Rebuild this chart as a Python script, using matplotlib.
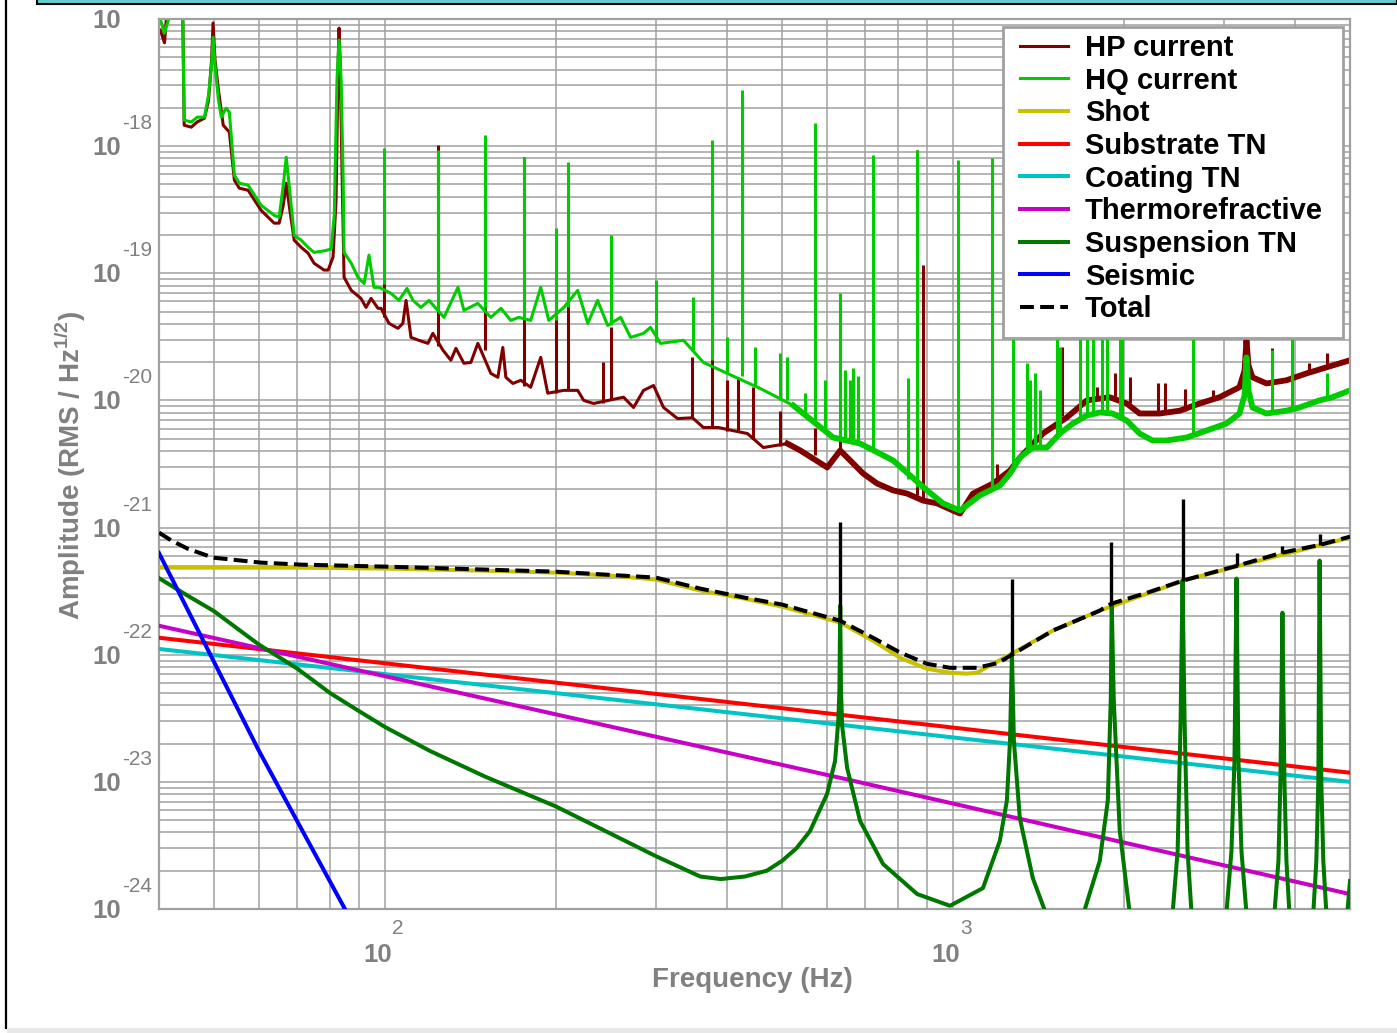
import numpy as np
import matplotlib
matplotlib.use("Agg")
import matplotlib.pyplot as plt
from matplotlib.patches import Rectangle
from matplotlib.lines import Line2D
from matplotlib.ticker import LogLocator, NullFormatter

plt.rcParams['font.family'] = ['Liberation Sans', 'DejaVu Sans']
plt.rcParams['mathtext.fontset'] = 'custom'
plt.rcParams['mathtext.rm'] = 'Liberation Sans'
plt.rcParams['mathtext.bf'] = 'Liberation Sans:bold'
plt.rcParams['lines.scale_dashes'] = False

# ---------------- data ----------------
hp_f = [40.2, 40.9, 41.4, 42.1, 44.0, 44.3, 45.6, 46.7, 48.1, 48.9, 49.5, 49.8, 50.2, 50.9, 51.9,
        53.2, 54.3, 55.4, 57.4, 60.5, 63.8, 65.1, 66.2, 67.0, 67.8, 69.2, 71.2, 73.2, 75.0, 78.1,
        79.4, 81.0, 82.0, 82.7, 83.0, 83.35, 84.0, 84.7, 87.2, 90.7, 92.6, 94.5, 97.2, 98.4, 101.6,
        105.4, 107.5, 108.9, 111.1, 114.7, 119.0, 121.4, 126.5, 130.6, 133.3, 137.7, 141.6, 145.7,
        147.5, 153.6, 158.0, 161.2, 163.2, 167.9, 173.4, 180.5, 188.0, 193.4, 206.4, 218.4, 223.8,
        232.9, 263.0, 273.9, 285.2, 297.0, 309.3, 327.3, 347.8, 363.6, 386.4, 408.9, 434.5, 463.6,
        510.9, 538.5, 600.6, 633, 659.2, 694.8, 735.3, 784.6, 830.4, 885.8, 937.4, 1000, 1029,
        1084, 1176, 1260, 1312, 1440, 1586, 1720, 1887, 2022, 2131, 2311, 2506, 2718, 2946, 3194,
        3261, 3286, 3313, 3367, 3564, 3864, 4190, 4543, 5000]
hp_v = [8.2e-18, 6.5e-18, 1.3e-17, 1.5e-17, 1.5e-17, 1.46e-18, 1.41e-18, 1.55e-18, 1.66e-18, 2.3e-18,
        4.75e-18, 9.3e-18, 4.75e-18, 2.76e-18, 1.46e-18, 1.29e-18, 5.39e-19, 4.67e-19, 4.5e-19,
        3.13e-19, 2.48e-19, 2.48e-19, 3.43e-19, 5.11e-19, 3.43e-19, 1.82e-19, 1.6e-19, 1.44e-19,
        1.2e-19, 1.06e-19, 1.06e-19, 1.34e-19, 3.76e-19, 4.75e-18, 8.48e-18, 4.75e-18, 6.46e-19,
        9.3e-20, 7.34e-20, 6.35e-20, 5.39e-20, 6.35e-20, 5.3e-20, 5.3e-20, 4.04e-20, 3.69e-20,
        4.04e-20, 6.12e-20, 3.13e-20, 2.97e-20, 2.81e-20, 3.37e-20, 2.48e-20, 2.07e-20, 2.57e-20,
        1.96e-20, 1.99e-20, 2.81e-20, 2.48e-20, 1.63e-20, 1.52e-20, 2.61e-20, 1.52e-20, 1.36e-20,
        1.44e-20, 1.27e-20, 2.18e-20, 1.14e-20, 1.2e-20, 1.2e-20, 1.0e-20, 9.46e-21, 1.06e-20,
        8.8e-21, 1.2e-20, 1.31e-20, 8.8e-21, 7.2e-21, 7.3e-21, 6.12e-21, 6.12e-21, 5.8e-21, 5.49e-21,
        4.26e-21, 4.58e-21, 4.04e-21, 2.97e-21, 4.04e-21, 3.37e-21, 2.66e-21, 2.22e-21, 1.96e-21,
        1.85e-21, 1.63e-21, 1.55e-21, 1.36e-21, 1.29e-21, 1.85e-21, 2.22e-21, 2.81e-21, 3.56e-21,
        5.49e-21, 7.34e-21, 1.0e-20, 1.06e-20, 9.46e-21, 7.89e-21, 7.89e-21, 8.3e-21, 9.46e-21,
        1.06e-20, 1.27e-20, 1.72e-20, 2.97e-20, 1.89e-20, 1.52e-20, 1.36e-20, 1.44e-20, 1.63e-20,
        1.82e-20, 2.07e-20]

hq_f = [40.2, 40.9, 41.6, 42.5, 44.0, 44.3, 45.6, 46.7, 48.1, 48.9, 49.5, 49.8, 50.2, 50.9, 51.5,
        52.5, 53.2, 54.3, 55.4, 57.4, 60.5, 63.8, 65.1, 66.2, 67.0, 67.8, 69.2, 71.2, 73.2, 75.0,
        78.1, 80.4, 81.4, 82.3, 83.0, 83.7, 84.4, 84.7, 87.2, 89.6, 91.9, 93.7, 95.6, 97.6, 102.5,
        105.8, 109.3, 112.0, 115.7, 119.5, 127.0, 134.4, 137.7, 145.7, 153.6, 160.0, 166.5, 172.0,
        180.5, 188.0, 194.2, 206.4, 218.4, 227.5, 236.7, 246.6, 259.9, 270.6, 285.2, 293.4, 305.5,
        335.4, 363.6, 400.7, 458.0, 523.5, 615.3, 686.4, 784.6, 900.3, 960.3, 1029, 1115, 1209,
        1260, 1312, 1382, 1463, 1542, 1625, 1720, 1813, 1910, 2022, 2131, 2246, 2377, 2578, 2796,
        3030, 3194, 3261, 3286, 3313, 3367, 3564, 3864, 4073, 4416, 4654, 5000]
hq_v = [1.0e-17, 7.75e-18, 1.0e-17, 1.5e-17, 1.5e-17, 1.6e-18, 1.55e-18, 1.69e-18, 1.69e-18, 2.52e-18,
        4.34e-18, 7.2e-18, 4.34e-18, 2.3e-18, 1.69e-18, 1.99e-18, 1.85e-18, 5.9e-19, 5.11e-19,
        4.93e-19, 3.43e-19, 2.86e-19, 2.76e-19, 4.93e-19, 8.18e-19, 4.93e-19, 1.99e-19, 1.82e-19,
        1.6e-19, 1.46e-19, 1.5e-19, 1.55e-19, 2.86e-19, 3.31e-18, 6.83e-18, 3.31e-18, 5.39e-19,
        1.46e-19, 1.2e-19, 9.3e-20, 8.3e-20, 1.39e-19, 7.75e-20, 7.75e-20, 6.95e-20, 6.12e-20,
        7.6e-20, 6.12e-20, 5.39e-20, 6.12e-20, 4.5e-20, 7.75e-20, 5.11e-20, 5.8e-20, 4.5e-20,
        5.3e-20, 4.26e-20, 4.5e-20, 4.26e-20, 7.75e-20, 4.26e-20, 5.39e-20, 7.34e-20, 4.04e-20,
        6.12e-20, 3.89e-20, 4.5e-20, 3.13e-20, 3.37e-20, 3.76e-20, 2.81e-20, 2.97e-20, 1.99e-20,
        1.63e-20, 1.24e-20, 9.12e-21, 5.11e-21, 4.58e-21, 3.37e-21, 1.96e-21, 1.55e-21, 1.36e-21,
        1.79e-21, 2.14e-21, 2.66e-21, 3.56e-21, 4.26e-21, 4.26e-21, 5.49e-21, 6.58e-21, 7.61e-21,
        8.04e-21, 7.89e-21, 6.95e-21, 5.49e-21, 4.84e-21, 4.84e-21, 5.11e-21, 5.8e-21, 6.58e-21,
        7.89e-21, 1.1e-20, 2.18e-20, 1.2e-20, 8.8e-21, 7.89e-21, 8.3e-21, 8.8e-21, 1.0e-20,
        1.06e-20, 1.2e-20]

# narrow lines in the measured spectra: frequency, foot, top
hp_spike_f = [99.6, 123.9, 149.9, 175.5, 199.8, 209.7, 241.6, 249.6, 347.8, 377.0, 400.7, 419.0,
              445.2, 496.6, 572.2, 633, 864.5, 885.8, 1195, 1554, 1791, 1926, 2047, 2292, 2358,
              2557, 2642, 2864, 3651, 4241, 4561]
hp_spike_lo = [4.5e-20, 2.7e-20, 2.5e-20, 1.3e-20, 1.14e-20, 1.2e-20, 9.5e-21, 1.0e-20, 7.3e-21,
               6.1e-21, 5.8e-21, 5.6e-21, 5.0e-21, 4.4e-21, 3.7e-21, 4.0e-21, 1.8e-21, 1.63e-21,
               2.3e-21, 7.6e-21, 1.0e-20, 1.06e-20, 9.5e-21, 7.9e-21, 7.9e-21, 8.3e-21, 8.8e-21,
               1.0e-20, 1.4e-20, 1.6e-20, 1.8e-20]
hp_spike_hi = [3.56e-19, 1.02e-18, 5.9e-19, 8.18e-19, 6.95e-20, 3.76e-19, 1.99e-20, 3.76e-20,
               2.18e-20, 3.43e-20, 1.44e-20, 1.52e-20, 1.27e-20, 8.3e-21, 6.1e-21, 6.1e-20, 9.3e-19,
               1.16e-19, 3.19e-21, 2.61e-20, 1.27e-20, 1.63e-20, 1.52e-20, 1.36e-20, 1.38e-20,
               1.24e-20, 4.0e-20, 1.2e-20, 2.57e-20, 1.96e-20, 2.34e-20]

hq_spike_f = [99.6, 123.9, 149.9, 175.5, 199.8, 209.7, 249.6, 299.4, 349.2, 377.0, 400.7, 425.8,
              448.8, 496.6, 510.9, 549.5, 572.2, 595.7, 633, 645, 659.2, 667.3, 680, 723.5, 833.6,
              864.5, 1020, 1171, 1275, 1349, 1366, 1394, 1422, 1523, 1542, 1672, 1720, 1762, 1827,
              1865, 1966, 1985, 2642, 3651, 3959, 4561]
hq_spike_lo = [8.3e-20, 5.1e-20, 5.3e-20, 4.4e-20, 4.3e-20, 5.4e-20, 3.9e-20, 2.9e-20, 2.5e-20,
               2.07e-20, 1.63e-20, 1.57e-20, 1.3e-20, 1.0e-20, 1.0e-20, 8.0e-21, 7.0e-21, 6.0e-21,
               5.1e-21, 5.0e-21, 4.8e-21, 4.7e-21, 4.6e-21, 4.0e-21, 2.4e-21, 2.1e-21, 1.4e-21,
               2.0e-21, 2.8e-21, 3.9e-21, 4.0e-21, 4.2e-21, 4.3e-21, 5.2e-21, 5.5e-21, 7.0e-21,
               7.6e-21, 7.8e-21, 8.0e-21, 8.0e-21, 7.5e-21, 7.3e-21, 5.3e-21, 8.0e-21, 8.5e-21,
               1.03e-20]
hq_spike_hi = [9.6e-19, 9.3e-19, 1.22e-18, 8.18e-19, 2.26e-19, 7.47e-19, 1.99e-19, 8.8e-20,
               6.46e-20, 1.115e-18, 3.13e-20, 2.76e-18, 2.61e-20, 2.34e-20, 2.18e-20, 1.14e-20,
               1.52e-18, 1.44e-20, 6.95e-20, 1.72e-20, 1.44e-20, 1.79e-20, 1.57e-20, 8.48e-19,
               1.49e-20, 9.3e-19, 7.75e-19, 8.04e-19, 1.0e-19, 1.96e-20, 1.44e-20, 1.63e-20,
               1.2e-20, 1.0e-19, 2.61e-20, 1.0e-19, 1.0e-19, 1.0e-19, 1.0e-19, 1.0e-19, 1.0e-19,
               1.0e-19, 1.0e-19, 2.48e-20, 1.0e-19, 1.63e-20]

shot_f = [40, 70, 100, 150, 200, 250, 300, 360, 430, 500, 633, 723, 807, 900, 988, 1057, 1102,
          1176, 1270, 1500, 1812, 2547, 3194, 5000]
shot_v = [4.84e-22, 4.84e-22, 4.76e-22, 4.58e-22, 4.42e-22, 4.19e-22, 3.9e-22, 3.19e-22, 2.76e-22,
          2.39e-22, 1.79e-22, 1.29e-22, 9.46e-23, 7.75e-23, 7.22e-23, 7.1e-23, 7.22e-23, 8.48e-23,
          1.02e-22, 1.55e-22, 2.22e-22, 3.83e-22, 5.02e-22, 8.34e-22]

substrate_f = [40, 633, 5000]
substrate_v = [1.36e-22, 3.37e-23, 1.18e-23]
coating_f = [40, 633, 5000]
coating_v = [1.11e-22, 2.81e-23, 1.0e-23]
thermo_f = [40, 633, 5000]
thermo_v = [1.69e-22, 1.075e-23, 1.31e-24]

susp_f = [40, 45, 50, 55, 60, 65, 70, 80, 90, 100, 120, 150, 200, 250, 300, 359, 390, 430, 470,
          500, 530, 560, 600, 620, 628, 631, 633, 635, 638, 651, 686, 753, 865, 988, 1129, 1209,
          1244, 1260, 1270, 1280, 1311, 1382, 1463, 1692, 1813, 1873, 1896, 1903, 1919, 1966,
          2047, 2436, 2486, 2516, 2536, 2557, 2588, 2630, 3030, 3092, 3130, 3156, 3181, 3220,
          3286, 3681, 3741, 3771, 3802, 3833, 3864, 3911, 4309, 4362, 4398, 4420, 4451, 4487,
          4543, 4946, 5000]
susp_v = [4.0e-22, 2.9e-22, 2.2e-22, 1.6e-22, 1.2e-22, 9.6e-23, 7.8e-23, 5.0e-23, 3.6e-23,
          2.7e-23, 1.75e-23, 1.1e-23, 6.4e-24, 3.9e-24, 2.6e-24, 1.8e-24, 1.72e-24, 1.8e-24,
          2.0e-24, 2.39e-24, 3.0e-24, 4.1e-24, 8.0e-24, 1.46e-23, 3.0e-23, 5.2e-23, 2.43e-22,
          5.2e-23, 2.76e-23, 1.29e-23, 4.93e-24, 2.26e-24, 1.31e-24, 1.06e-24, 1.46e-24, 3.43e-24,
          7.1e-24, 2.1e-23, 1.02e-22, 2.1e-23, 5.2e-24, 1.75e-24, 8.8e-25, 8.8e-25, 2.39e-24,
          7.1e-24, 4.58e-23, 2.52e-22, 4.34e-23, 4.1e-24, 9.3e-25, 9.3e-25, 2.86e-24, 3.0e-23,
          3.83e-22, 3.0e-23, 2.86e-24, 9.3e-25, 9.3e-25, 2.86e-24, 1.46e-23, 3.97e-22, 1.46e-23,
          2.86e-24, 9.3e-25, 9.3e-25, 2.39e-24, 1.02e-23, 2.14e-22, 1.02e-23, 2.39e-24, 9.3e-25,
          9.3e-25, 2.39e-24, 1.02e-23, 5.5e-22, 1.02e-23, 2.39e-24, 9.3e-25, 9.3e-25, 1.66e-24]

seismic_f = [40, 60, 85, 90]
seismic_v = [6.3e-22, 1.75e-23, 1.0e-24, 6.0e-25]

total_f = [40, 42.1, 44.9, 49.8, 60.5, 71.2, 100, 200, 300, 359, 430, 500, 633, 723, 807, 900,
           988, 1102, 1200, 1270, 1500, 1812, 1900, 2200, 2540, 3160, 3800, 4420, 5000]
total_v = [9.12e-22, 7.89e-22, 6.83e-22, 5.8e-22, 5.3e-22, 5.11e-22, 4.93e-22, 4.5e-22, 4.04e-22,
           3.31e-22, 2.81e-22, 2.48e-22, 1.85e-22, 1.36e-22, 1.04e-22, 8.48e-23, 7.89e-23,
           7.89e-23, 8.6e-23, 1.0e-22, 1.55e-22, 2.22e-22, 2.52e-22, 3.08e-22, 3.83e-22, 5.0e-22,
           6.35e-22, 7.3e-22, 8.48e-22]
total_spike_f = [633, 1270, 1900, 2540, 3160, 3800, 4420]
total_spike_lo = [1.85e-22, 1.0e-22, 2.52e-22, 3.83e-22, 5.0e-22, 6.35e-22, 7.3e-22]
total_spike_hi = [1.115e-21, 3.96e-22, 7.75e-22, 1.69e-21, 6.35e-22, 7.1e-22, 8.96e-22]

labels = ['HP current', 'HQ current', 'Shot', 'Substrate TN', 'Coating TN',
          'Thermorefractive', 'Suspension TN', 'Seismic', 'Total']
colors = ['#800000', '#00cc00', '#c8c000', '#ff0000', '#00c4c4',
          '#c800c8', '#007800', '#0000ff', '#000000']
x_decades = [2, 3]
y_decades = [-24, -23, -22, -21, -20, -19, -18, -17]

# ---------------- figure ----------------
W, H = 1397, 1033
PT = 100 / 72.0
fig = plt.figure(figsize=(W / 100, H / 100), dpi=100)
fig.patch.set_facecolor('white')
ax = fig.add_axes([159 / W, (H - 909) / H, (1350 - 159) / W, (909 - 19) / H])
ax.set_xscale('log')
ax.set_yscale('log')
ax.set_xlim(40, 5000)
ax.set_ylim(1e-24, 1e-17)

ax.xaxis.set_major_locator(LogLocator(base=10, numticks=100))
ax.xaxis.set_minor_locator(LogLocator(base=10, subs=np.arange(2, 10), numticks=100))
ax.yaxis.set_major_locator(LogLocator(base=10, numticks=100))
ax.yaxis.set_minor_locator(LogLocator(base=10, subs=np.arange(2, 10), numticks=100))
for a in (ax.xaxis, ax.yaxis):
    a.set_major_formatter(NullFormatter())
    a.set_minor_formatter(NullFormatter())
ax.tick_params(which='both', length=0)
ax.grid(True, which='both', color='#a0a0a0', lw=1.1)
ax.set_axisbelow(True)
for s in ax.spines.values():
    s.set_color('#a0a0a0')
    s.set_linewidth(1.6)

hp_f_a, hp_v_a = np.array(hp_f), np.array(hp_v)
hq_f_a, hq_v_a = np.array(hq_f), np.array(hq_v)

l_hp, = ax.plot(hp_f, hp_v, color=colors[0], lw=2.2, zorder=2)
m = hp_f_a >= 500
ax.plot(hp_f_a[m], hp_v_a[m], color=colors[0], lw=4.2, zorder=2)
ax.vlines(hp_spike_f, hp_spike_lo, hp_spike_hi, colors=colors[0], lw=2.2, zorder=2)

l_hq, = ax.plot(hq_f, hq_v, color=colors[1], lw=2.2, zorder=2.1)
m = hq_f_a >= 500
ax.plot(hq_f_a[m], hq_v_a[m], color=colors[1], lw=4.2, zorder=2.1)
ax.vlines(hq_spike_f, hq_spike_lo, hq_spike_hi, colors=colors[1], lw=2.2, zorder=2.1)

TLW = 2.9
l_shot, = ax.plot(shot_f, shot_v, color=colors[2], lw=TLW, zorder=3)
l_sub, = ax.plot(substrate_f, substrate_v, color=colors[3], lw=TLW, zorder=3)
l_coat, = ax.plot(coating_f, coating_v, color=colors[4], lw=TLW, zorder=3)
l_thermo, = ax.plot(thermo_f, thermo_v, color=colors[5], lw=TLW, zorder=3)
l_susp, = ax.plot(susp_f, susp_v, color=colors[6], lw=TLW, zorder=3.1)
l_seis, = ax.plot(seismic_f, seismic_v, color=colors[7], lw=TLW, zorder=3.2)
l_tot, = ax.plot(total_f, total_v, color=colors[8], lw=TLW, zorder=3.3,
                 linestyle=(0, (10, 4.5)))
ax.vlines(total_spike_f, total_spike_lo, total_spike_hi, colors='black', lw=2.4, zorder=3.3)

# legend: white box drawn separately, entries on top of it
box = Rectangle((1003 / W, 1 - 338 / H), 340 / W, 311 / H, transform=fig.transFigure,
                facecolor='white', edgecolor='#a0a0a0', lw=2, zorder=9, clip_on=False)
ax.add_patch(box)
handles = [l_hp, l_hq, l_shot, l_sub, l_coat, l_thermo, l_susp, l_seis, l_tot]
leg = ax.legend(handles, labels, loc='upper left', bbox_to_anchor=(1020 / W, 1 - 34 / H),
                bbox_transform=fig.transFigure, borderaxespad=0, frameon=False,
                prop={'weight': 'bold', 'size': 21},
                handlelength=1.65, handletextpad=0.58, labelspacing=0.16, borderpad=0)
leg.set_zorder(10)

# ---------------- tick labels ----------------
grey = '#808080'
for k in y_decades:
    ax.annotate('10', xy=(0, 10.0 ** k), xycoords=('axes fraction', 'data'),
                xytext=(-38 / PT, -2 / PT), textcoords='offset points', ha='right', va='center',
                fontsize=18.5, fontweight='bold', color=grey, annotation_clip=False)
    if k != -17:
        ax.annotate(str(k), xy=(0, 10.0 ** k), xycoords=('axes fraction', 'data'),
                    xytext=(-37 / PT, 22.5 / PT), textcoords='offset points', ha='left',
                    va='center', fontsize=15, color=grey, annotation_clip=False)
for k in x_decades:
    ax.annotate('10', xy=(10.0 ** k, 0), xycoords=('data', 'axes fraction'),
                xytext=(-7 / PT, -46 / PT), textcoords='offset points', ha='center', va='center',
                fontsize=18.5, fontweight='bold', color=grey, annotation_clip=False)
    ax.annotate(str(k), xy=(10.0 ** k, 0), xycoords=('data', 'axes fraction'),
                xytext=(13 / PT, -19 / PT), textcoords='offset points', ha='center', va='center',
                fontsize=15, color=grey, annotation_clip=False)

fig.text(752 / W, 1 - 980 / H, 'Frequency (Hz)', ha='center', va='center', fontsize=20,
         fontweight='bold', color=grey)
fig.text(70 / W, 1 - 465 / H, r'Amplitude (RMS / Hz$^{\mathbf{1/2}}$)', ha='center', va='center',
         rotation=90, fontsize=20, fontweight='bold', color=grey)

# ---------------- window frame decorations ----------------
fig.add_artist(Line2D([6 / W, 6 / W], [1, 1 - 1028 / H], transform=fig.transFigure,
                      color='black', lw=1.6, zorder=20))
fig.add_artist(Rectangle((37 / W, 1 - 4 / H), (W - 37) / W, 6 / H, transform=fig.transFigure,
                         facecolor='#66cccc', edgecolor='black', lw=1.5, zorder=20))
fig.add_artist(Rectangle((7 / W, 0), 1, 5 / H, transform=fig.transFigure,
                         facecolor='#e8e8e8', edgecolor='none', zorder=20))

fig.savefig('out.png', dpi=100)
